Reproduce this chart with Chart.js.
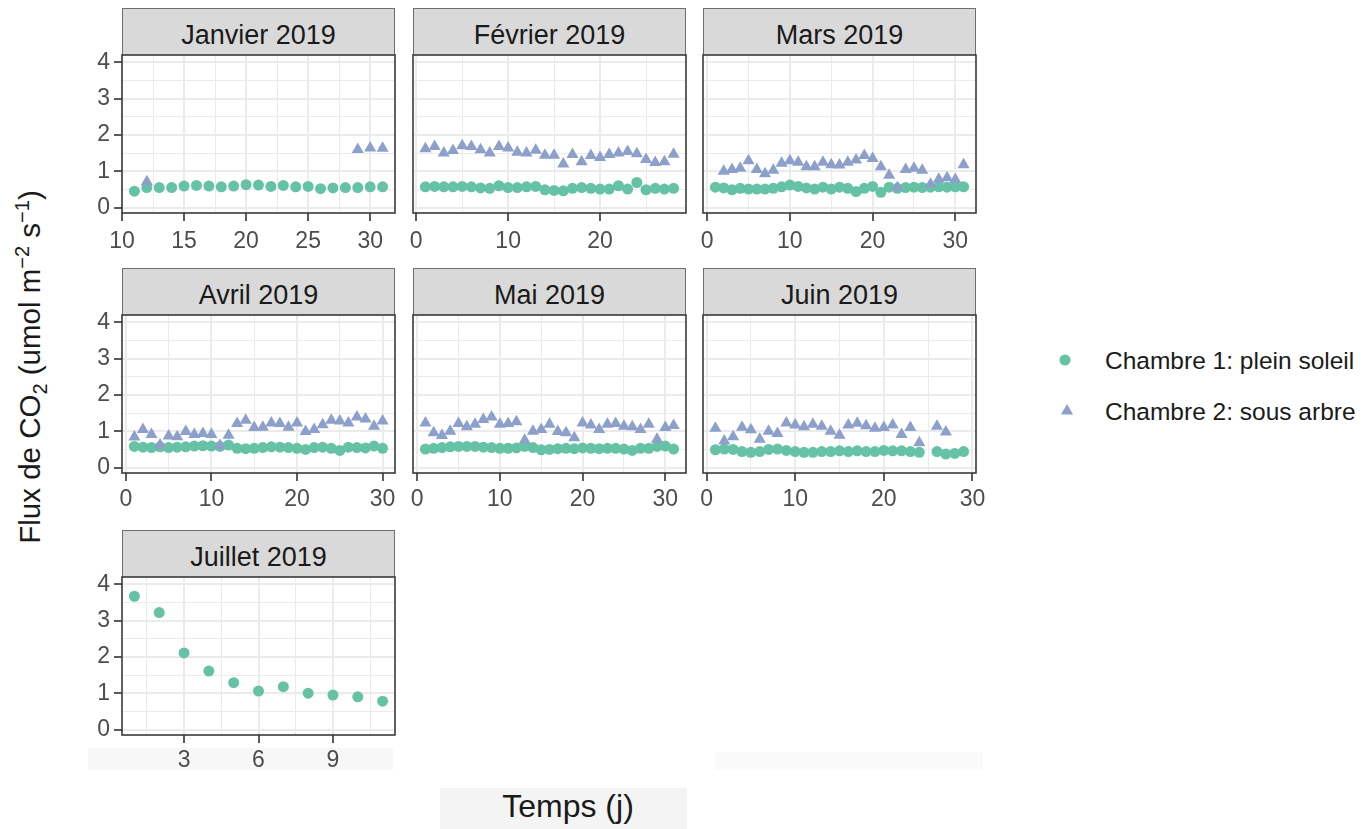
<!DOCTYPE html>
<html>
<head>
<meta charset="utf-8">
<script src="https://cdn.jsdelivr.net/npm/chart.js@4.4.1/dist/chart.umd.min.js"></script>
<style>
  html, body { margin:0; padding:0; }
  body { width:1370px; height:829px; background:#fff; position:relative; overflow:hidden;
         font-family:'Liberation Sans', Arial, sans-serif; }
  canvas { position:absolute; }
  .strip { position:absolute; background:#d9d9d9; border:1px solid #6e6e6e; border-bottom:none;
           box-sizing:border-box; color:#1a1a1a; font-size:27px; overflow:hidden; }
  .strip span { position:absolute; left:0; right:0; top:3px; line-height:47px; text-align:center; white-space:nowrap; }
  .band { position:absolute; }
  .ytitle { position:absolute; left:30px; top:367px; transform:translate(-50%,-50%) rotate(-90deg);
            font-size:29.5px; color:#1a1a1a; white-space:nowrap; }
  .ytitle sub, .ytitle sup { font-size:20px; line-height:0; }
  .xtitle { position:absolute; left:568px; top:806px; transform:translate(-50%,-50%);
            font-size:32px; color:#1a1a1a; white-space:nowrap; }
  .legend { position:absolute; left:1050px; top:338px; }
  .legend .row { position:absolute; left:0; height:46px; width:320px; }
  .legend .row span { position:absolute; left:55px; top:0; line-height:46px; font-size:24.5px; color:#1a1a1a; white-space:nowrap; }
  .legend svg { position:absolute; left:0; top:0; }
</style>
</head>
<body>
<script>
// ---------------- DATA ----------------
const panelTitles = ['Janvier 2019','Février 2019','Mars 2019','Avril 2019','Mai 2019','Juin 2019','Juillet 2019'];
const seriesNames = ['Chambre 1: plein soleil','Chambre 2: sous arbre'];

const janDays  = [11,12,13,14,15,16,17,18,19,20,21,22,23,24,25,26,27,28,29,30,31];
const janSun   = [0.45,0.55,0.55,0.55,0.59,0.61,0.59,0.57,0.59,0.63,0.62,0.58,0.61,0.57,0.58,0.52,0.54,0.55,0.55,0.57,0.57];
const janShade = [null,0.71,null,null,null,null,null,null,null,null,null,null,null,null,null,null,null,null,1.60,1.64,1.63];

const febDays  = [1,2,3,4,5,6,7,8,9,10,11,12,13,14,15,16,17,18,19,20,21,22,23,24,25,26,27,28];
const febSun   = [0.57,0.58,0.57,0.57,0.58,0.57,0.54,0.53,0.60,0.55,0.55,0.57,0.58,0.49,0.47,0.46,0.53,0.55,0.53,0.51,0.51,0.60,0.51,0.69,0.49,0.53,0.51,0.53];
const febShade = [1.62,1.68,1.50,1.57,1.70,1.68,1.59,1.50,1.68,1.64,1.52,1.50,1.58,1.44,1.44,1.20,1.46,1.26,1.43,1.38,1.46,1.50,1.54,1.48,1.32,1.24,1.26,1.47];

const marDays  = [1,2,3,4,5,6,7,8,9,10,11,12,13,14,15,16,17,18,19,20,21,22,23,24,25,26,27,28,29,30,31];
const marSun   = [0.56,0.54,0.49,0.53,0.51,0.51,0.51,0.53,0.57,0.62,0.58,0.54,0.51,0.56,0.51,0.56,0.53,0.44,0.53,0.58,0.42,0.56,0.53,0.55,0.56,0.55,0.56,0.57,0.56,0.57,0.57];
const marShade = [null,1.00,1.05,1.08,1.29,1.05,0.93,1.03,1.22,1.29,1.25,1.12,1.12,1.25,1.18,1.17,1.25,1.31,1.43,1.35,1.12,0.89,0.55,1.05,1.08,1.03,0.64,0.78,0.82,0.77,1.18];

const aprDays  = [1,2,3,4,5,6,7,8,9,10,11,12,13,14,15,16,17,18,19,20,21,22,23,24,25,26,27,28,29,30];
const aprSun   = [0.58,0.56,0.55,0.57,0.55,0.56,0.57,0.59,0.60,0.59,0.58,0.62,0.53,0.52,0.53,0.55,0.57,0.56,0.55,0.53,0.50,0.55,0.56,0.53,0.47,0.56,0.55,0.54,0.59,0.53];
const aprShade = [0.84,1.05,0.91,0.62,0.87,0.85,0.99,0.91,0.94,0.91,0.61,0.89,1.21,1.30,1.10,1.11,1.23,1.21,1.11,1.23,0.99,1.05,1.18,1.30,1.28,1.23,1.39,1.34,1.14,1.28];

const mayDays  = [1,2,3,4,5,6,7,8,9,10,11,12,13,14,15,16,17,18,19,20,21,22,23,24,25,26,27,28,29,30,31];
const maySun   = [0.51,0.53,0.55,0.57,0.58,0.58,0.58,0.56,0.55,0.53,0.53,0.54,0.58,0.55,0.49,0.50,0.52,0.53,0.52,0.54,0.53,0.52,0.53,0.53,0.51,0.47,0.53,0.53,0.58,0.59,0.51];
const mayShade = [1.23,0.96,0.88,1.00,1.21,1.12,1.19,1.32,1.39,1.19,1.21,1.26,0.75,1.00,1.05,1.19,0.99,0.96,0.82,1.23,1.17,1.05,1.19,1.21,1.14,1.12,1.05,1.19,0.78,1.10,1.16];

const junDays  = [1,2,3,4,5,6,7,8,9,10,11,12,13,14,15,16,17,18,19,20,21,22,23,24,25,26,27,28,29];
const junSun   = [0.49,0.51,0.50,0.44,0.42,0.44,0.50,0.51,0.47,0.44,0.42,0.42,0.44,0.44,0.46,0.44,0.46,0.44,0.44,0.47,0.46,0.46,0.44,0.42,null,0.44,0.37,0.39,0.44];
const junShade = [1.08,0.73,0.85,1.11,1.04,0.78,1.00,0.94,1.23,1.17,1.12,1.19,1.14,1.00,0.89,1.17,1.22,1.15,1.08,1.10,1.17,0.91,1.10,0.68,null,1.14,0.98,null,null];

const julDays  = [1,2,3,4,5,6,7,8,9,10,11];
const julSun   = [3.67,3.22,2.11,1.61,1.29,1.06,1.18,1.00,0.95,0.90,0.78];
const julShade = [null,null,null,null,null,null,null,null,null,null,null];

// axis ticks (major labelled, minor = grid only)
const yMajor = [0,1,2,3,4];
const yMinor = [0.5,1.5,2.5,3.5];
const janXMajor = [10,15,20,25,30], janXMinor = [12.5,17.5,22.5,27.5];
const febXMajor = [0,10,20],        febXMinor = [5,15,25];
const m30XMajor = [0,10,20,30],     m30XMinor = [5,15,25];
const julXMajor = [3,6,9],          julXMinor = [1.5,4.5,7.5,10.5];

// ---------------- LAYOUT ----------------
const GREEN = '#66c2a5', PURPLE = '#8da0cb';
const PW = 273, PH = 158, YW = 55, XH = 48, PADT = 22, PADR = 28;
const colX = [122, 413, 703];
const rowY = [55, 315, 577];
const labelPad = [7, 5, 4];

const panels = [
  {t:0, col:0,row:0, days:janDays, sun:janSun, shade:janShade, xmin:10,    xmax:32,    maj:janXMajor, min:janXMinor},
  {t:1, col:1,row:0, days:febDays, sun:febSun, shade:febShade, xmin:-0.35, xmax:29.35, maj:febXMajor, min:febXMinor},
  {t:2, col:2,row:0, days:marDays, sun:marSun, shade:marShade, xmin:-0.5,  xmax:32.5,  maj:m30XMajor, min:m30XMinor},
  {t:3, col:0,row:1, days:aprDays, sun:aprSun, shade:aprShade, xmin:-0.45, xmax:31.45, maj:m30XMajor, min:m30XMinor},
  {t:4, col:1,row:1, days:mayDays, sun:maySun, shade:mayShade, xmin:-0.5,  xmax:32.5,  maj:m30XMajor, min:m30XMinor},
  {t:5, col:2,row:1, days:junDays, sun:junSun, shade:junShade, xmin:-0.4,  xmax:30.4,  maj:m30XMajor, min:m30XMinor},
  {t:6, col:0,row:2, days:julDays, sun:julSun, shade:julShade, xmin:0.5,   xmax:11.5,  maj:julXMajor, min:julXMinor}
];

function pts(days, vals) {
  const out = [];
  days.forEach((d, i) => { if (vals[i] !== null && vals[i] !== undefined) out.push({x:d, y:vals[i]}); });
  return out;
}

function addDiv(cls, style, html) {
  const d = document.createElement('div');
  d.className = cls;
  Object.assign(d.style, style);
  if (html !== undefined) d.innerHTML = html;
  document.body.appendChild(d);
  return d;
}

// faint background bands present in the reference picture
addDiv('band', {left:'88px', top:'748px', width:'305px', height:'22px', background:'#f7f7f7'});
addDiv('band', {left:'715px', top:'752px', width:'268px', height:'18px', background:'#fafafa'});
addDiv('band', {left:'440px', top:'788px', width:'247px', height:'41px', background:'#f4f4f4'});

const borderPlugin = {
  id: 'panelBorder',
  afterDraw(chart) {
    const a = chart.chartArea, ctx = chart.ctx;
    ctx.save();
    ctx.strokeStyle = '#3a3a3a';
    ctx.lineWidth = 1.6;
    ctx.strokeRect(a.left, a.top, a.right - a.left, a.bottom - a.top);
    ctx.restore();
  }
};

Chart.defaults.font.family = "'Liberation Sans', Arial, sans-serif";

panels.forEach(p => {
  const px = colX[p.col], py = rowY[p.row];
  // strip
  const s = addDiv('strip', {left:px+'px', top:(py-47)+'px', width:PW+'px', height:'47px'});
  const sp = document.createElement('span');
  sp.textContent = panelTitles[p.t];
  s.appendChild(sp);

  const W = PW + YW + PADR, H = PH + PADT + XH;
  const c = document.createElement('canvas');
  c.width = W; c.height = H;
  c.style.left = (px - YW) + 'px';
  c.style.top = (py - PADT) + 'px';
  c.style.width = W + 'px';
  c.style.height = H + 'px';
  document.body.appendChild(c);

  const showY = p.col === 0;
  const xTicks = p.maj.concat(p.min).sort((a,b)=>a-b);
  const yTicks = yMajor.concat(yMinor).sort((a,b)=>a-b);
  const xIsMaj = v => p.maj.includes(v);
  const yIsMaj = v => yMajor.includes(v);

  new Chart(c, {
    type: 'scatter',
    data: {
      datasets: [
        { label: seriesNames[1], data: pts(p.days, p.shade), pointStyle:'triangle', pointRadius:7,
          pointHoverRadius:7, backgroundColor:PURPLE, borderWidth:0, showLine:false },
        { label: seriesNames[0], data: pts(p.days, p.sun), pointStyle:'circle', pointRadius:5.5,
          pointHoverRadius:5.5, backgroundColor:GREEN, borderWidth:0, showLine:false }
      ]
    },
    options: {
      responsive:false, animation:false, devicePixelRatio:1,
      layout: { padding: { left:0, right:PADR, top:PADT, bottom:0 } },
      plugins: { legend:{display:false}, tooltip:{enabled:false}, title:{display:false} },
      events: [],
      scales: {
        x: {
          type:'linear', min:p.xmin, max:p.xmax, position:'bottom',
          afterBuildTicks: sc => { sc.ticks = xTicks.map(v => ({value:v})); },
          afterFit: sc => { sc.height = XH; sc.paddingLeft = 0; sc.paddingRight = 0; },
          border: { display:false },
          grid: {
            color:'#ebebeb',
            lineWidth: ctx => (ctx.tick && xIsMaj(ctx.tick.value)) ? 2 : 1,
            drawTicks:true, tickLength:8,
            tickColor: ctx => (ctx.tick && xIsMaj(ctx.tick.value)) ? '#333333' : 'rgba(0,0,0,0)',
            tickWidth: 1.6
          },
          ticks: {
            autoSkip:false, maxRotation:0, minRotation:0, padding:labelPad[p.row],
            color:'#4d4d4d', font:{size:23},
            callback: v => xIsMaj(v) ? String(v) : ''
          }
        },
        y: {
          type:'linear', min:-0.15, max:4.2, position:'left',
          afterBuildTicks: sc => { sc.ticks = yTicks.map(v => ({value:v})); },
          afterFit: sc => { sc.width = YW; sc.paddingTop = 0; sc.paddingBottom = 0; },
          border: { display:false },
          grid: {
            color:'#ebebeb',
            lineWidth: ctx => (ctx.tick && yIsMaj(ctx.tick.value)) ? 2 : 1,
            drawTicks: showY, tickLength: showY ? 8 : 0,
            tickColor: ctx => (showY && ctx.tick && yIsMaj(ctx.tick.value)) ? '#333333' : 'rgba(0,0,0,0)',
            tickWidth: 1.6
          },
          ticks: {
            display: showY, autoSkip:false, padding:4,
            color:'#4d4d4d', font:{size:23},
            callback: v => yIsMaj(v) ? String(v) : ''
          }
        }
      }
    },
    plugins: [borderPlugin]
  });
});

// axis titles
addDiv('ytitle', {}, 'Flux de CO<sub>2</sub> (umol m<sup>\u22122</sup> s<sup>\u22121</sup>)');
addDiv('xtitle', {}, 'Temps (j)');

// legend
const lg = addDiv('legend', {});
lg.innerHTML =
  '<div class="row" style="top:0px"><svg width="40" height="46"><circle cx="15" cy="22" r="5.5" fill="' + GREEN + '"/></svg><span>' + seriesNames[0] + '</span></div>' +
  '<div class="row" style="top:51px"><svg width="40" height="46"><polygon points="17,15 23.06,25.5 10.94,25.5" fill="' + PURPLE + '"/></svg><span>' + seriesNames[1] + '</span></div>';
</script>
</body>
</html>
